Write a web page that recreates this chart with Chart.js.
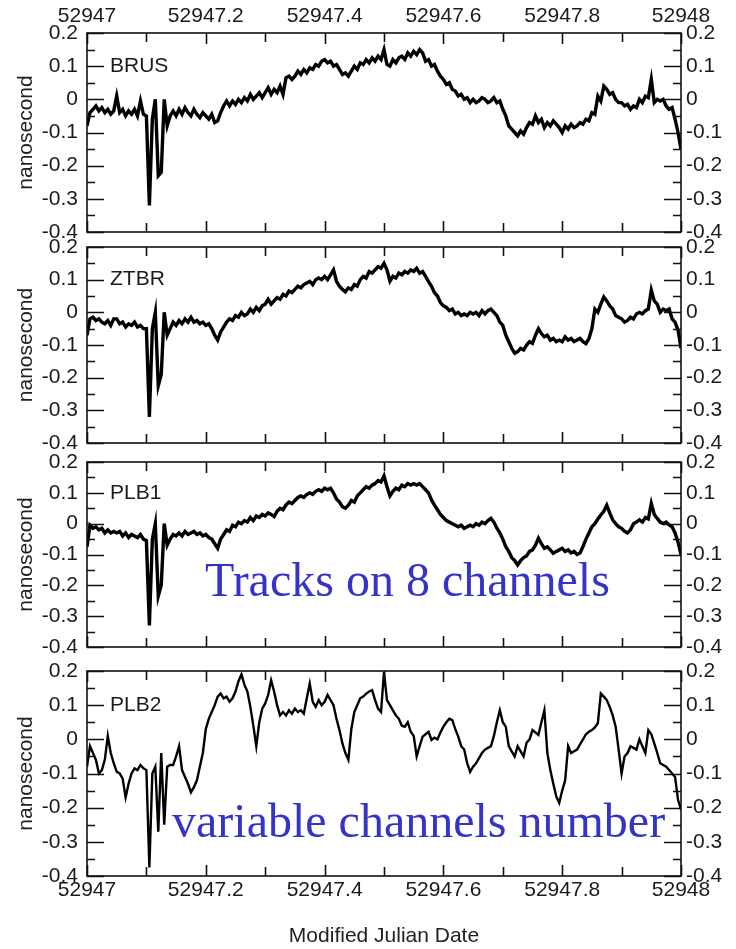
<!DOCTYPE html>
<html lang="en">
<head>
  <meta charset="UTF-8">
  <title>Tracks on 8 channels</title>
  <script src="https://cdn.jsdelivr.net/npm/chart.js"></script>
  <style>
    body {
      margin: 0;
      background: #fff;
      width: 736px;
      height: 949px;
      overflow: hidden;
      position: relative;
    }
    .panel {
      position: absolute;
      left: 0;
      width: 736px;
    }
    .note {
      position: absolute;
      font-family: "Liberation Serif", "Times New Roman", serif;
      font-size: 48px;
      line-height: 48px;
      color: #3434c8;
      white-space: nowrap;
    }
  </style>
</head>
<body>

<div class="panel" id="p1" style="top:0px;height:262px"><canvas id="c1" width="736" height="262"></canvas></div>
<div class="panel" id="p2" style="top:217px;height:256px"><canvas id="c2" width="736" height="256"></canvas></div>
<div class="panel" id="p3" style="top:432px;height:245px"><canvas id="c3" width="736" height="245"></canvas></div>
<div class="panel" id="p4" style="top:641px;height:308px"><canvas id="c4" width="736" height="308"></canvas></div>

<div class="note" style="left:205px;top:556px">Tracks on 8 channels</div>
<div class="note" style="left:172px;top:797px">variable channels number</div>

<script>
  // tick labels
  const xTicks = [52947, 52947.2, 52947.4, 52947.6, 52947.8, 52948];
  const yTicks = [-0.4, -0.3, -0.2, -0.1, 0, 0.1, 0.2];

  // one sample every 0.005 day (values in nanosecond)
  const brus = [
    -0.08, -0.04, -0.03, -0.02, -0.035, -0.025, -0.04, -0.03, -0.045, -0.035,
    0.01, -0.04, -0.03, -0.05, -0.035, -0.045, -0.03, -0.05, -0.005, -0.045,
    -0.05, -0.32, -0.06, 0.0, -0.23, -0.22, 0.0, -0.08, -0.05, -0.035,
    -0.05, -0.03, -0.045, -0.025, -0.04, -0.05, -0.03, -0.045, -0.055, -0.04,
    -0.05, -0.06, -0.045, -0.07, -0.065, -0.04, -0.02, -0.005, -0.02, -0.005,
    -0.015, 0.0, -0.01, 0.005, -0.005, 0.015, 0.0, 0.01, 0.02, 0.005,
    0.02, 0.035, 0.015, 0.03, 0.02, 0.04, 0.015, 0.065, 0.07, 0.06,
    0.07, 0.085, 0.075, 0.09, 0.08, 0.095, 0.09, 0.105, 0.1, 0.115,
    0.12, 0.11, 0.115, 0.1, 0.105, 0.09, 0.075, 0.08, 0.07, 0.085,
    0.1, 0.09, 0.11, 0.105, 0.12, 0.11, 0.125, 0.115, 0.13, 0.12,
    0.15, 0.105, 0.1, 0.12, 0.11, 0.125, 0.13, 0.12, 0.14, 0.13,
    0.145, 0.135, 0.15, 0.14, 0.115, 0.12, 0.1, 0.105, 0.085, 0.07,
    0.06, 0.045, 0.05, 0.03, 0.025, 0.01, 0.015, 0.0, 0.005, -0.01,
    0.0, -0.01, -0.005, 0.005, 0.0, -0.01, -0.005, 0.005, -0.01, -0.005,
    -0.03, -0.05, -0.08, -0.09, -0.1, -0.11, -0.095, -0.105, -0.085, -0.07,
    -0.075, -0.05, -0.07, -0.06, -0.085, -0.07, -0.08, -0.065, -0.075, -0.085,
    -0.1, -0.08, -0.09, -0.075, -0.085, -0.08, -0.07, -0.075, -0.06, -0.065,
    -0.04, -0.045, 0.01, -0.005, 0.04, 0.03, 0.015, 0.02, 0.0, -0.01,
    -0.01, -0.02, -0.015, -0.03, -0.02, -0.025, 0.0, -0.01, 0.01, 0.005,
    0.06, -0.01, 0.0, -0.005, 0.0, -0.02, -0.03, -0.025, -0.06, -0.1, -0.15
  ];
  const ztbr = [
    -0.07, -0.02, -0.015, -0.025, -0.02, -0.03, -0.035, -0.025, -0.04, -0.02,
    -0.02, -0.035, -0.03, -0.045, -0.035, -0.04, -0.03, -0.045, -0.04, -0.05,
    -0.05, -0.32, -0.05, 0.0, -0.225, -0.19, 0.0, -0.07, -0.05, -0.03,
    -0.04, -0.025, -0.035, -0.02, -0.03, -0.015, -0.03, -0.025, -0.035, -0.03,
    -0.04, -0.035, -0.05, -0.07, -0.085, -0.06, -0.045, -0.03, -0.02, -0.025,
    -0.01, -0.015, 0.0, -0.01, -0.005, 0.01, 0.0, 0.015, 0.005, 0.02,
    0.025, 0.04, 0.025, 0.035, 0.045, 0.04, 0.055, 0.05, 0.065, 0.06,
    0.07, 0.08, 0.075, 0.085, 0.09, 0.095, 0.085, 0.1, 0.105, 0.1,
    0.11, 0.1, 0.115, 0.13, 0.095, 0.08, 0.07, 0.063, 0.075, 0.07,
    0.085, 0.08, 0.1, 0.11, 0.105, 0.125, 0.12, 0.13, 0.14, 0.135,
    0.15, 0.13, 0.095, 0.11, 0.105, 0.12, 0.115, 0.125, 0.12, 0.13,
    0.125, 0.135, 0.12, 0.125, 0.11, 0.094, 0.08, 0.06, 0.05, 0.03,
    0.02, 0.015, 0.005, 0.01, -0.005, 0.0, -0.01, -0.005, -0.01, 0.0,
    -0.005, 0.0, -0.01, 0.005, -0.005, 0.005, 0.01, 0.0, -0.01, -0.03,
    -0.04, -0.07, -0.09, -0.11, -0.125, -0.12, -0.11, -0.115, -0.1, -0.09,
    -0.095, -0.07, -0.05, -0.065, -0.075, -0.07, -0.085, -0.08, -0.09, -0.085,
    -0.09, -0.075, -0.085, -0.08, -0.09, -0.085, -0.08, -0.09, -0.096, -0.08,
    -0.05, 0.01, 0.0, 0.025, 0.047, 0.035, 0.02, 0.01, -0.01, -0.015,
    -0.02, -0.03, -0.025, -0.015, -0.02, -0.005, 0.0, -0.005, 0.005, 0.01,
    0.068, 0.035, 0.025, 0.0, 0.01, 0.005, 0.01, -0.02, -0.03, -0.055, -0.11
  ];
  const plb1 = [
    -0.075, -0.005, -0.015, -0.01, -0.02, -0.015, -0.03, -0.02, -0.03, -0.025,
    -0.03, -0.025, -0.04, -0.03, -0.045, -0.035, -0.04, -0.045, -0.035, -0.05,
    -0.055, -0.33, -0.05, 0.0, -0.235, -0.2, 0.0, -0.07, -0.05, -0.035,
    -0.04, -0.03, -0.04, -0.025, -0.035, -0.03, -0.025, -0.035, -0.03, -0.04,
    -0.035, -0.045, -0.05, -0.065, -0.08, -0.05, -0.035, -0.02, -0.025, -0.005,
    -0.01, 0.005, 0.0, 0.01, 0.005, 0.02, 0.01, 0.025, 0.02, 0.03,
    0.025, 0.035, 0.03, 0.023, 0.04, 0.05, 0.045, 0.06, 0.07, 0.065,
    0.075, 0.085, 0.09, 0.085, 0.095, 0.1, 0.095, 0.105, 0.11, 0.105,
    0.115, 0.11, 0.115, 0.1, 0.08, 0.07, 0.055, 0.05, 0.06, 0.075,
    0.07, 0.09, 0.1, 0.11, 0.12, 0.115, 0.125, 0.13, 0.14, 0.135,
    0.155, 0.12, 0.09, 0.105, 0.115, 0.11, 0.125, 0.12, 0.13, 0.125,
    0.13, 0.125, 0.13, 0.12, 0.11, 0.1, 0.077, 0.06, 0.045, 0.03,
    0.02, 0.01, 0.005, 0.0, -0.005, -0.01, -0.005, -0.015, -0.01, -0.005,
    -0.01, 0.0, -0.005, 0.005, 0.0, 0.01, 0.017, 0.005, -0.015, -0.03,
    -0.05, -0.075, -0.09, -0.11, -0.12, -0.134, -0.12, -0.11, -0.105, -0.09,
    -0.085, -0.07, -0.047, -0.065, -0.08, -0.075, -0.085, -0.096, -0.09, -0.085,
    -0.08, -0.09, -0.085, -0.095, -0.09, -0.1, -0.095, -0.074, -0.05, -0.03,
    -0.01, 0.0, 0.015, 0.028, 0.04, 0.06, 0.035, 0.012, 0.0, -0.01,
    -0.015, -0.025, -0.03, -0.02, 0.0, 0.005, 0.012, 0.005, 0.02, 0.015,
    0.066, 0.03, 0.017, 0.005, 0.0, 0.005, -0.004, -0.01, -0.03, -0.06, -0.1
  ];
  const plb2 = [
    -0.08, -0.02, -0.04, -0.06, -0.1, -0.09, -0.06, 0.01, -0.04, -0.07,
    -0.095, -0.1, -0.115, -0.17, -0.13, -0.1, -0.085, -0.09, -0.075, -0.085,
    -0.09, -0.375, -0.1, -0.08, -0.27, -0.04, -0.25, -0.08, -0.075, -0.075,
    -0.05, -0.02, -0.09, -0.11, -0.13, -0.155, -0.14, -0.12, -0.08, -0.04,
    0.03, 0.06, 0.08, 0.1, 0.125, 0.134, 0.12, 0.125, 0.11, 0.12,
    0.14, 0.17, 0.19, 0.16, 0.14, 0.095, 0.04, -0.02, 0.05, 0.09,
    0.105, 0.13, 0.173, 0.14, 0.1, 0.07, 0.08, 0.07, 0.085, 0.075,
    0.09, 0.08, 0.085, 0.075, 0.12, 0.163, 0.11, 0.095, 0.115, 0.1,
    0.11, 0.13, 0.115, 0.1, 0.06, 0.027, -0.012, -0.04, -0.06, 0.03,
    0.08, 0.1, 0.12, 0.125, 0.134, 0.14, 0.144, 0.115, 0.09, 0.08,
    0.197, 0.115, 0.1, 0.085, 0.07, 0.06, 0.04, 0.037, 0.05, 0.022,
    0.01, -0.05, -0.02, 0.008, 0.015, 0.022, -0.002, 0.005, 0.0, 0.02,
    0.037, 0.05, 0.06, 0.056, 0.03, 0.008, -0.02, -0.03, -0.07, -0.095,
    -0.08, -0.07, -0.055, -0.04, -0.03, -0.025, -0.02, 0.01, 0.05, 0.085,
    0.05, 0.037, -0.02, -0.035, -0.05, -0.02, -0.035, -0.05, -0.01, 0.0,
    0.027, 0.02, 0.013, 0.05, 0.085, -0.04, -0.09, -0.13, -0.167, -0.186,
    -0.15, -0.12, -0.02, -0.04, -0.035, -0.03, -0.015, 0.0, 0.015, 0.022,
    0.027, 0.035, 0.047, 0.134, 0.125, 0.115, 0.095, 0.07, 0.037, -0.03,
    -0.1, -0.05, -0.04, -0.02, -0.025, -0.03, 0.0, -0.02, -0.04, 0.027,
    0.015, -0.012, -0.04, -0.07, -0.075, -0.08, -0.09, -0.1, -0.11, -0.177, -0.206
  ];

  const startMjd = 52947;
  const step = 0.005;

  const sansFont = '"Liberation Sans", Arial, sans-serif';
  const fontSize = 21;
  const inkColor = '#1a1a1a';

  // box, inward tick marks and the station name
  const framePlugin = {
    id: 'frame',
    afterDatasetsDraw(chart, args, opts) {
      const { ctx, chartArea: a } = chart;
      const x = chart.scales.x, y = chart.scales.y;
      ctx.save();
      ctx.strokeStyle = '#111';
      ctx.lineWidth = 1.6;
      ctx.strokeRect(a.left, a.top, a.right - a.left, a.bottom - a.top);
      ctx.beginPath();
      for (let k = 0; k <= 10; k++) {
        const px = Math.round(x.getPixelForValue(x.min + k * 0.1)) + 0.5;
        const len = k % 2 ? 9 : 11;
        ctx.moveTo(px, a.top); ctx.lineTo(px, a.top + len);
        ctx.moveTo(px, a.bottom); ctx.lineTo(px, a.bottom - len);
      }
      for (let k = 0; k <= 12; k++) {
        const py = Math.round(y.getPixelForValue(y.min + k * 0.05)) + 0.5;
        const len = k % 2 ? 8 : 17;
        ctx.moveTo(a.left, py); ctx.lineTo(a.left + len, py);
        ctx.moveTo(a.right, py); ctx.lineTo(a.right - len, py);
      }
      ctx.stroke();
      ctx.fillStyle = inkColor;
      ctx.font = fontSize + 'px ' + sansFont;
      ctx.textBaseline = 'middle';
      ctx.fillText(opts.label, a.left + 23, y.getPixelForValue(0.1));
      ctx.restore();
    }
  };

  function yAxis(position, width, pad, withTitle) {
    return {
      type: 'linear',
      position: position,
      min: -0.4,
      max: 0.2,
      grid: { display: false, drawTicks: false },
      border: { display: false },
      afterBuildTicks: s => { s.ticks = yTicks.map(v => ({ value: v })); },
      afterFit: s => { s.width = width; },
      ticks: {
        padding: pad,
        color: inkColor,
        font: { family: sansFont, size: fontSize, lineHeight: 1 },
        callback: v => String(v)
      },
      title: {
        display: withTitle,
        text: 'nanosecond',
        color: '#222',
        padding: { top: 16, bottom: 0 },
        font: { family: sansFont, size: fontSize, lineHeight: 1 }
      }
    };
  }

  function makePanel(canvasId, name, values, xPos, lineWidth) {
    const points = values.map((v, i) => ({ x: startMjd + i * step, y: v }));
    const showX = xPos !== null;
    return new Chart(document.getElementById(canvasId), {
      type: 'line',
      data: {
        datasets: [{
          label: name,
          data: points,
          borderColor: '#000',
          borderWidth: lineWidth,
          pointRadius: 0,
          tension: 0,
          yAxisID: 'y'
        }]
      },
      options: {
        responsive: false,
        animation: false,
        events: [],
        layout: {
          padding: {
            top: xPos === 'top' ? 0 : 30,
            bottom: xPos === 'bottom' ? 0 : 30,
            left: 0,
            right: 0
          }
        },
        plugins: {
          legend: { display: false },
          tooltip: { enabled: false },
          frame: { label: name }
        },
        scales: {
          x: {
            type: 'linear',
            display: showX,
            position: xPos || 'bottom',
            min: 52947,
            max: 52948,
            grid: { display: false, drawTicks: false },
            border: { display: false },
            afterBuildTicks: s => { s.ticks = xTicks.map(v => ({ value: v })); },
            afterFit: s => { s.height = xPos === 'top' ? 33 : (xPos === 'bottom' ? 73 : 0); },
            ticks: {
              autoSkip: false,
              maxRotation: 0,
              padding: xPos === 'top' ? 6 : 4,
              color: inkColor,
              font: { family: sansFont, size: fontSize, lineHeight: 1 },
              callback: v => String(v)
            },
            title: {
              display: xPos === 'bottom',
              text: 'Modified Julian Date',
              color: '#222',
              padding: { top: 0, bottom: 2 },
              font: { family: sansFont, size: fontSize, lineHeight: 1 }
            }
          },
          y: yAxis('left', 87, 9, true),
          y2: yAxis('right', 55, 5, false)
        }
      },
      plugins: [framePlugin]
    });
  }

  makePanel('c1', 'BRUS', brus, 'top', 3.4);
  makePanel('c2', 'ZTBR', ztbr, null, 3.4);
  makePanel('c3', 'PLB1', plb1, null, 3.4);
  makePanel('c4', 'PLB2', plb2, 'bottom', 2.4);
</script>

</body>
</html>
